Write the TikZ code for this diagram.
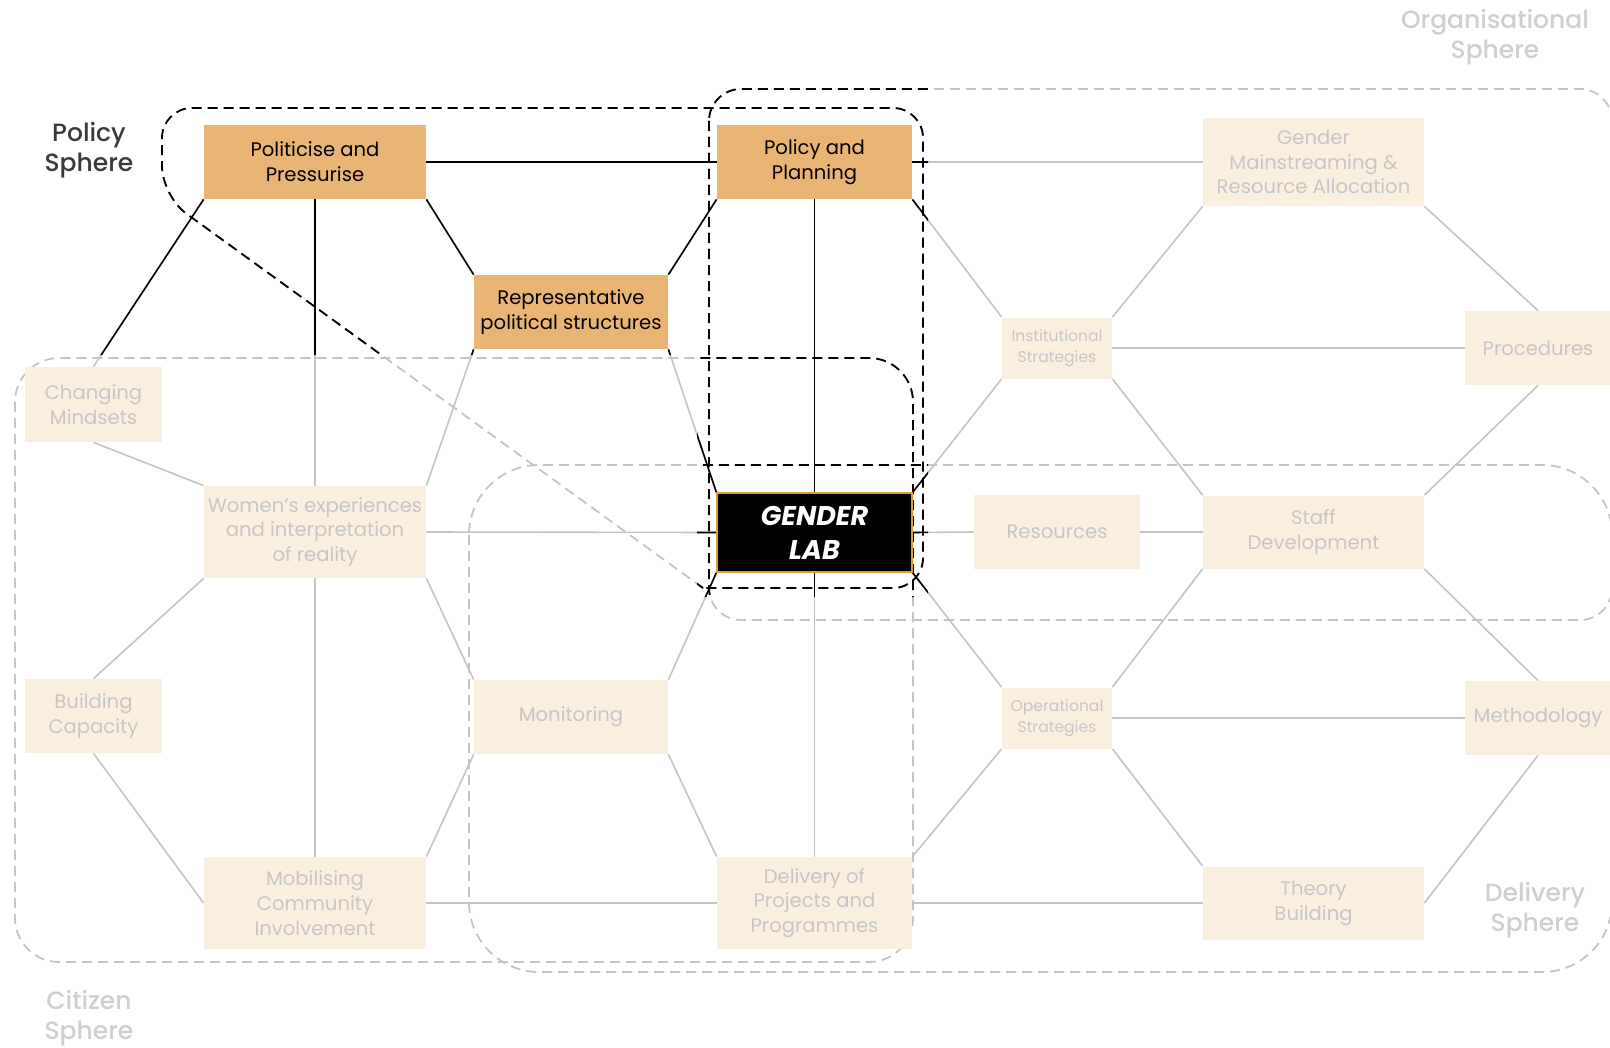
\documentclass[tikz,border=0pt]{standalone}
\usepackage{fontspec}
\setmainfont{Poppins}
\newfontfamily\tagfont{Poppins}[UprightFont=* Medium]
\usetikzlibrary{backgrounds}
\definecolor{hot}{HTML}{E9B574}
\definecolor{hotline}{HTML}{E09A3E}
\definecolor{cold}{HTML}{FAEEDF}
\definecolor{coldtext}{HTML}{C6C6C6}
\definecolor{coldline}{HTML}{C4C4C4}
\definecolor{tagink}{HTML}{3A3A3A}
\definecolor{tagfade}{HTML}{CFCFCF}

\newcommand\linklist{pol.east/plan.west, plan.east/gmr.west, pol.south west/mind.north,
  pol.south/women.north, pol.south east/rep.north west, plan.south west/rep.north east,
  plan.south/lab.north, plan.south east/inst.north west, rep.south west/women.north east,
  rep.south east/lab.north west, women.east/lab.west, lab.east/res.west,
  lab.north east/inst.south west, lab.south east/oper.north west, lab.south west/mon.north east,
  lab.south/deliv.north, res.east/staff.west, gmr.south west/inst.north east,
  gmr.south east/proc.north, inst.east/proc.west, inst.south east/staff.north west,
  proc.south/staff.north east, staff.south west/oper.north east, staff.south east/meth.north,
  oper.east/meth.west, oper.south east/theory.north west, meth.south/theory.east,
  oper.south west/deliv.north east, deliv.east/theory.west, deliv.west/mob.east,
  deliv.north west/mon.south east, mon.north west/women.south east, mon.south west/mob.north east,
  mind.south/women.north west, women.south west/build.north, build.south/mob.west,
  women.south/mob.north}

\newcommand\drawnet[1]{%
  \foreach \a/\b in \linklist {\draw[link, #1] (\a) -- (\b);}
  \draw[sphere, #1, rounded corners=15pt] (703,588) -- (162,196) -- (162,108) -- (923,108) -- (923,588) -- (703,588);
  \draw[sphere, #1, rounded corners=16pt] (709,89) rectangle (1612,620);
  \draw[sphere, #1, rounded corners=22pt] (15,358) rectangle (913,962);
  \draw[sphere, #1, rounded corners=35pt] (469,465) rectangle (1612,972);
}

\begin{document}
\begin{tikzpicture}[x=0.5pt, y=-0.5pt,
  box/.style={inner sep=0pt, align=center, font=\fontsize{9.8}{12.4}\selectfont},
  hotbox/.style={box, fill=hot, text=black},
  coldbox/.style={box, fill=cold, text=coldtext},
  smallbox/.style={coldbox, font=\fontsize{7.8}{10.5}\selectfont},
  labbox/.style={box, fill=black, draw=hotline, line width=0.6pt, text=white, font=\fontsize{13.5}{17}\selectfont\bfseries\itshape},
  sphere/.style={line width=0.9pt, dash pattern=on 5pt off 3pt},
  link/.style={line width=0.8pt},
  tag/.style={align=center, font=\tagfont\fontsize{12.5}{15}\selectfont},
]
\useasboundingbox (0,0) rectangle (1610,1048);

\node[hotbox, minimum width=111pt, minimum height=37pt] (pol) at (315,162) {Politicise and\\Pressurise};
\node[hotbox, minimum width=97.5pt, minimum height=37pt] (plan) at (814.5,162) {Policy and\\Planning};
\node[hotbox, minimum width=97pt, minimum height=37pt] (rep) at (571,312) {Representative\\political structures};
\node[labbox, minimum width=97.5pt, minimum height=39.5pt] (lab) at (814.5,532.5) {GENDER\\LAB};

\node[coldbox, minimum width=110.5pt, minimum height=44pt] (gmr) at (1313.5,162) {Gender\\Mainstreaming \&\\Resource Allocation};
\node[smallbox, minimum width=55pt, minimum height=30.5pt] (inst) at (1057,348) {Institutional\\Strategies};
\node[coldbox, minimum width=73pt, minimum height=37pt] (proc) at (1538,348) {Procedures};
\node[coldbox, minimum width=68.5pt, minimum height=37.5pt] (mind) at (93.5,404.5) {Changing\\Mindsets};
\node[coldbox, minimum width=111pt, minimum height=46pt] (women) at (315,532) {Women’s experiences\\and interpretation\\of reality};
\node[coldbox, minimum width=83pt, minimum height=37pt] (res) at (1057,532) {Resources};
\node[coldbox, minimum width=110.5pt, minimum height=36.5pt] (staff) at (1313.5,532) {Staff\\Development};
\node[coldbox, minimum width=68.5pt, minimum height=37pt] (build) at (93.5,716) {Building\\Capacity};
\node[coldbox, minimum width=97pt, minimum height=37pt] (mon) at (571,717) {Monitoring};
\node[smallbox, minimum width=55pt, minimum height=30.5pt] (oper) at (1057,718) {Operational\\Strategies};
\node[coldbox, minimum width=73pt, minimum height=37pt] (meth) at (1538,718) {Methodology};
\node[coldbox, minimum width=111pt, minimum height=46pt] (mob) at (315,903) {Mobilising\\Community\\Involvement};
\node[coldbox, minimum width=97.5pt, minimum height=46pt] (deliv) at (814.5,903) {Delivery of\\Projects and\\Programmes};
\node[coldbox, minimum width=110.5pt, minimum height=36.5pt] (theory) at (1313.5,903) {Theory\\Building};

\node[tag, text=tagink] (policytag) at (89,150) {Policy\\Sphere};
\node[tag, text=tagfade] (orgtag) at (1495,37) {Organisational\\Sphere};
\node[tag, text=tagfade] (citizentag) at (89,1018) {Citizen\\Sphere};
\node[tag, text=tagfade] (deliverytag) at (1535,910) {Delivery\\Sphere};

\begin{scope}[on background layer]
  \drawnet{coldline}
  \begin{scope}
    \clip (0,0) -- (928,0) -- (928,597) -- (697,597) -- (697,355) -- (0,355) -- cycle;
    \drawnet{black}
  \end{scope}
\end{scope}
\end{tikzpicture}
\end{document}
